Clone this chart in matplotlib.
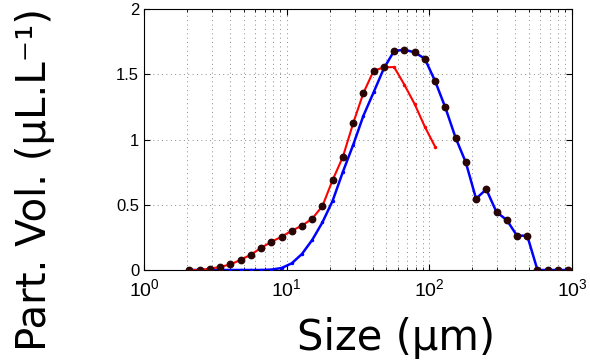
import numpy as np
import matplotlib
matplotlib.use('Agg')
import matplotlib.pyplot as plt
from matplotlib.ticker import FixedLocator, FixedFormatter, LogLocator, NullFormatter

# ── Data ──────────────────────────────────────────────────────────────────────
size_um = [2.08, 2.45, 2.89, 3.41, 4.03, 4.75, 5.60, 6.61, 7.80, 9.20,
           10.85, 12.80, 15.10, 17.81, 21.01, 24.79, 29.24, 34.50, 40.70, 48.01,
           56.64, 66.82, 78.83, 93.0, 109.7, 129.4, 152.7, 180.1, 212.5, 250.7,
           295.7, 348.9, 411.6, 485.6, 572.8, 675.8, 797.2, 940.5]

# red curve (first 25 sizes)
red_vol = [0.0, 0.0, 0.01, 0.023, 0.043, 0.077, 0.117, 0.169, 0.215, 0.255,
           0.301, 0.34, 0.393, 0.49, 0.69, 0.868, 1.124, 1.356, 1.527, 1.553,
           1.555, 1.42, 1.272, 1.098, 0.945]

# blue curve (all sizes)
blue_vol = [0.0, 0.0, 0.0, 0.0, 0.0, 0.0, 0.0, 0.0, 0.003, 0.015,
            0.051, 0.123, 0.23, 0.365, 0.531, 0.753, 0.958, 1.182, 1.362, 1.545,
            1.678, 1.688, 1.668, 1.619, 1.448, 1.246, 1.014, 0.825, 0.547, 0.618,
            0.444, 0.383, 0.263, 0.263, 0.0, 0.0, 0.0, 0.0]

N_RED_DOTS = 20   # black dots follow red for the first 20 sizes, then blue

x_ticks = [1, 10, 100, 1000]
x_ticklabels = [r'$\mathregular{10^{0}}$', r'$\mathregular{10^{1}}$',
                r'$\mathregular{10^{2}}$', r'$\mathregular{10^{3}}$']
y_ticks = [0, 0.5, 1, 1.5, 2]
y_ticklabels = ['0', '0.5', '1', '1.5', '2']

# ── Figure ─────────────────────────────────────────────────────────────────────
plt.rcParams['font.family'] = ['Liberation Sans', 'DejaVu Sans']
plt.rcParams['mathtext.fontset'] = 'custom'
plt.rcParams['mathtext.rm'] = 'Liberation Sans'

fig = plt.figure(figsize=(5.9, 3.61), dpi=100)
ax = fig.add_axes([144/590, 91/361, 428/590, 261/361])

x = np.array(size_um)
ax.plot(x, blue_vol, color='#0000ff', lw=1.8, marker='.', ms=3, zorder=3)
ax.plot(x[:len(red_vol)], red_vol, color='#ff0000', lw=1.5, marker='.', ms=3, zorder=4)

dots_y = red_vol[:N_RED_DOTS] + blue_vol[N_RED_DOTS:]
ax.plot(x, dots_y, ls='none', marker='o', ms=4.6, color='#2a0505', zorder=5)

ax.set_xscale('log')
ax.set_xlim(1, 1000)
ax.set_ylim(0, 2)

ax.xaxis.set_major_locator(FixedLocator(x_ticks))
ax.xaxis.set_major_formatter(FixedFormatter(x_ticklabels))
ax.xaxis.set_minor_locator(LogLocator(base=10, subs=np.arange(2, 10)))
ax.xaxis.set_minor_formatter(NullFormatter())
ax.yaxis.set_major_locator(FixedLocator(y_ticks))
ax.yaxis.set_major_formatter(FixedFormatter(y_ticklabels))

ax.tick_params(which='both', direction='in', top=True, right=True, labelsize=12)
ax.tick_params(axis='x', labelsize=14, pad=6)
ax.tick_params(which='major', length=4, width=0.8)
ax.tick_params(which='minor', length=2, width=0.6)

grid_ls = (0, (1, 3.5))
ax.grid(True, which='major', ls=grid_ls, color='#8a8a8a', lw=0.7)
ax.grid(True, which='minor', axis='x', ls=grid_ls, color='#8a8a8a', lw=0.7)

ax.set_xlabel('Size (µm)', fontsize=30, family='DejaVu Sans')
ax.set_ylabel('Part. Vol. (µL.L⁻¹)', fontsize=29, family='DejaVu Sans')
ax.xaxis.set_label_coords(0.588, -0.26)
ax.yaxis.set_label_coords(-0.255, 0.345)
ax.xaxis.label.set_va('center')
ax.yaxis.label.set_va('center')

fig.savefig('out.png', dpi=100)
